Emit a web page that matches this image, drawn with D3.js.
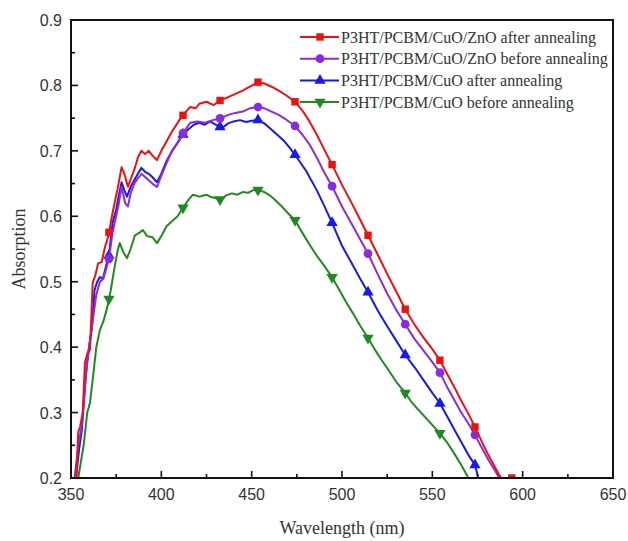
<!DOCTYPE html>
<html>
<head>
<meta charset="utf-8">
<script src="https://cdn.jsdelivr.net/npm/d3@7"></script>
<style>
  body { margin: 0; background: #fff; }
</style>
</head>
<body>
<div class="chart"></div>
<script>
// wavelength (nm) / absorption pairs
const redWl = [353,354,355,356.5,357.7,359,360.5,362,363.5,365,367,368.8,370.5,373,376,378,379.5,381.5,383.5,385.5,387,389,391,393,395,397.6,400,403,406,410,413,416,419,421,425,429,433,437,441,445,449,453.5,457,461,465,469,474,478,482,486,490,494.5,500,505,510,514.4,520,525,530,535,540,545,550,554.2,558,562,566,570,573.6,577,581,585,588,592,596];
const redAbs = [0.2,0.27,0.278,0.3,0.376,0.39,0.396,0.498,0.51,0.528,0.53,0.553,0.568,0.605,0.645,0.675,0.665,0.645,0.66,0.675,0.69,0.7,0.695,0.7,0.693,0.686,0.7,0.715,0.73,0.747,0.758,0.767,0.765,0.772,0.775,0.77,0.778,0.782,0.787,0.792,0.798,0.805,0.803,0.798,0.792,0.785,0.775,0.762,0.745,0.725,0.703,0.679,0.648,0.622,0.595,0.571,0.54,0.512,0.485,0.458,0.435,0.415,0.397,0.38,0.36,0.34,0.318,0.298,0.278,0.258,0.235,0.215,0.2,0.2,0.2];

const purpleWl = [352,354,356,358,360,362,364,366,368,370,371,373,375,376.5,378,380,381.5,383,385,387,389,391,393,395,397.6,400,403,406,409,412,416,420,424,428.6,433,437,441,445,449,453.5,457,461,465,469,474,478,482,486,490,494.5,500,505,510,514.4,520,525,530,535,540,545,550,554.2,558,562,566,570,573.6,577,581,585,587];
const purpleAbs = [0.2,0.25,0.28,0.35,0.4,0.44,0.48,0.5,0.505,0.525,0.535,0.575,0.6,0.62,0.645,0.62,0.615,0.635,0.65,0.658,0.665,0.66,0.655,0.65,0.645,0.662,0.682,0.7,0.713,0.727,0.743,0.745,0.743,0.747,0.75,0.755,0.758,0.76,0.765,0.767,0.765,0.76,0.755,0.748,0.738,0.725,0.71,0.69,0.668,0.646,0.615,0.59,0.565,0.543,0.51,0.482,0.457,0.435,0.413,0.395,0.377,0.361,0.34,0.32,0.3,0.283,0.266,0.248,0.228,0.21,0.2];

const blueWl = [352.8,354.6,356,357.5,358.8,360,361.6,363,364.5,366,367.7,369.5,371,373,375,376,378,379.5,381,383,385,387,389,391,393,395,397.6,400,403,406,409,412,415,418,421,424,427,430,433.6,437,440,443.5,447,450,453.5,457,460,464,468,471,474,480,486,490,494.5,500,505,510,514.4,520,525,530,535,540,545,550,554,558,562,566,570,573.6,575.5];
const blueAbs = [0.2,0.247,0.273,0.33,0.376,0.4,0.43,0.487,0.5,0.507,0.505,0.525,0.54,0.59,0.61,0.625,0.652,0.64,0.63,0.645,0.655,0.665,0.674,0.668,0.665,0.66,0.652,0.665,0.685,0.7,0.712,0.725,0.733,0.74,0.743,0.74,0.745,0.74,0.735,0.742,0.745,0.747,0.744,0.746,0.747,0.742,0.735,0.725,0.715,0.705,0.694,0.67,0.64,0.617,0.59,0.555,0.53,0.505,0.484,0.455,0.432,0.41,0.388,0.37,0.35,0.33,0.315,0.295,0.275,0.255,0.235,0.22,0.2];

const greenWl = [354,357,359,360.5,362,364,366,368,370,372,374,376,377,379,381,383,385.4,388,389.8,392,395,397.6,400,403,406.5,409,412,415,417.5,421,425,427,430,433,436,439,442,445,448,451,453.5,457,460,463,466,470,474,478,482,486,490,494.5,498,502,506,510,514.4,518,522,526,530,535,538,542,546,550,554,558,562,566,570];
const greenAbs = [0.2,0.25,0.3,0.315,0.35,0.4,0.426,0.44,0.46,0.487,0.52,0.55,0.559,0.545,0.536,0.55,0.571,0.575,0.579,0.57,0.568,0.559,0.57,0.585,0.594,0.6,0.613,0.625,0.633,0.63,0.633,0.63,0.628,0.625,0.632,0.635,0.633,0.637,0.636,0.64,0.64,0.637,0.632,0.625,0.617,0.605,0.594,0.575,0.557,0.54,0.525,0.507,0.49,0.47,0.452,0.433,0.414,0.397,0.38,0.364,0.347,0.33,0.318,0.305,0.293,0.281,0.269,0.255,0.238,0.22,0.2];

// wavelengths where the symbols sit
const markerWl = [371,412,432.5,453.5,474,494.5,514.4,535,554.2,573.6,594];

const seriesNames = ['P3HT/PCBM/CuO/ZnO after annealing','P3HT/PCBM/CuO/ZnO before annealing','P3HT/PCBM/CuO after annealing','P3HT/PCBM/CuO before annealing'];
const seriesColors = ['#f01010','#8a2be2','#1818f0','#1f8a1f'];
const seriesSymbols = [d3.symbolSquare, d3.symbolCircle, d3.symbolTriangle, d3.symbolTriangle];

const xTicks = [350,400,450,500,550,600,650];
const yTicks = [0.2,0.3,0.4,0.5,0.6,0.7,0.8,0.9];

const allSeries = [[redWl,redAbs],[purpleWl,purpleAbs],[blueWl,blueAbs],[greenWl,greenAbs]].map((s,i)=>{
  return {
    name: seriesNames[i],
    color: seriesColors[i],
    symbol: seriesSymbols[i],
    flip: i===3,
    pts: s[0].map((w,j)=>({w:w, a:s[1][j]}))
  };
});

const width = 628, height = 541;
const margin = {left:71, right:15, top:20, bottom:63};

const svg = d3.select('.chart').append('svg')
  .attr('width', width)
  .attr('height', height);

const x = d3.scaleLinear().domain([350,650]).range([margin.left, width-margin.right]);
const y = d3.scaleLinear().domain([0.2,0.9]).range([height-margin.bottom, margin.top]);

// curves, clipped to the frame
svg.append('clipPath').attr('id','plotclip')
  .append('rect')
  .attr('x', margin.left).attr('y', margin.top)
  .attr('width', x(650)-x(350)).attr('height', y(0.2)-y(0.9)+1);

const line = d3.line().x(d=>x(d.w)).y(d=>y(d.a));
const plot = svg.append('g').attr('clip-path','url(#plotclip)');

// draw back to front: green first
allSeries.slice().reverse().forEach(s=>{
  plot.append('path')
    .datum(s.pts)
    .attr('fill','none')
    .attr('stroke', s.color)
    .attr('stroke-width', 2)
    .attr('stroke-linejoin','round')
    .attr('d', line);

  const bis = d3.bisector(d=>d.w).left;
  const marks = markerWl.filter(w=>w>=s.pts[0].w && w<=s.pts[s.pts.length-1].w).map(w=>{
    const k = Math.max(1, bis(s.pts, w));
    const p0 = s.pts[k-1], p1 = s.pts[k];
    const t = (w-p0.w)/(p1.w-p0.w);
    return {w:w, a:p0.a+(p1.a-p0.a)*t};
  });
  plot.selectAll(null)
    .data(marks)
    .enter()
    .append('path')
    .attr('d', d3.symbol().type(s.symbol).size(s.symbol===d3.symbolCircle ? 60 : 55))
    .attr('transform', d=>'translate('+x(d.w)+','+y(d.a)+')'+(s.flip?' rotate(180)':''))
    .attr('fill', s.color);
});

// frame
const x0 = x(350), x1 = x(650), y0 = y(0.2), y1 = y(0.9);
svg.append('rect')
  .attr('x', x0).attr('y', y1)
  .attr('width', x1-x0).attr('height', y0-y1)
  .attr('fill','none')
  .attr('stroke','#111')
  .attr('stroke-width',2);

// ticks pointing inward
const xMinor = d3.range(375,650,50);
const yMinor = d3.range(0.25,0.9,0.1);
svg.selectAll('.xt').data(xTicks.slice(1,-1)).enter().append('line')
  .attr('x1',d=>x(d)).attr('x2',d=>x(d)).attr('y1',y0).attr('y2',y0-7)
  .attr('stroke','#111').attr('stroke-width',1.6);
svg.selectAll('.xm').data(xMinor).enter().append('line')
  .attr('x1',d=>x(d)).attr('x2',d=>x(d)).attr('y1',y0).attr('y2',y0-4)
  .attr('stroke','#111').attr('stroke-width',1.6);
svg.selectAll('.yt').data(yTicks.slice(1,-1)).enter().append('line')
  .attr('x1',x0).attr('x2',x0+7).attr('y1',d=>y(d)).attr('y2',d=>y(d))
  .attr('stroke','#111').attr('stroke-width',1.6);
svg.selectAll('.ym').data(yMinor).enter().append('line')
  .attr('x1',x0).attr('x2',x0+4).attr('y1',d=>y(d)).attr('y2',d=>y(d))
  .attr('stroke','#111').attr('stroke-width',1.6);

// tick labels
svg.selectAll('.xl').data(xTicks).enter().append('text')
  .attr('x',d=>x(d)).attr('y',y0+22)
  .attr('text-anchor','middle')
  .attr('font-family','Liberation Sans, Arial, sans-serif')
  .attr('font-size',16)
  .attr('fill','#333')
  .text(d=>d);
svg.selectAll('.yl').data(yTicks).enter().append('text')
  .attr('x',x0-9).attr('y',d=>y(d)+6)
  .attr('text-anchor','end')
  .attr('font-family','Liberation Sans, Arial, sans-serif')
  .attr('font-size',16)
  .attr('fill','#333')
  .text(d=>d.toFixed(1));

// axis titles
svg.append('text')
  .attr('x',(x0+x1)/2).attr('y',534)
  .attr('text-anchor','middle')
  .attr('font-family','Liberation Serif, Times New Roman, serif')
  .attr('font-size',18)
  .attr('fill','#333')
  .text('Wavelength (nm)');
svg.append('text')
  .attr('transform','translate(25,'+((y0+y1)/2)+') rotate(-90)')
  .attr('text-anchor','middle')
  .attr('font-family','Liberation Serif, Times New Roman, serif')
  .attr('font-size',18)
  .attr('fill','#333')
  .text('Absorption');

// legend
const legend = svg.selectAll('.lg').data(allSeries).enter().append('g')
  .attr('transform',(d,i)=>'translate(300,'+(37+i*21.7)+')');
legend.append('line')
  .attr('x1',0).attr('x2',39).attr('y1',0).attr('y2',0)
  .attr('stroke',d=>d.color).attr('stroke-width',2);
legend.append('path')
  .attr('d',d=>d3.symbol().type(d.symbol).size(d.symbol===d3.symbolCircle ? 60 : 55)())
  .attr('transform',d=>'translate(20,0)'+(d.flip?' rotate(180)':''))
  .attr('fill',d=>d.color);
legend.append('text')
  .attr('x',41).attr('y',5.5)
  .attr('font-family','Liberation Serif, Times New Roman, serif')
  .attr('font-size',16)
  .attr('fill','#333')
  .text(d=>d.name);
</script>
</body>
</html>
